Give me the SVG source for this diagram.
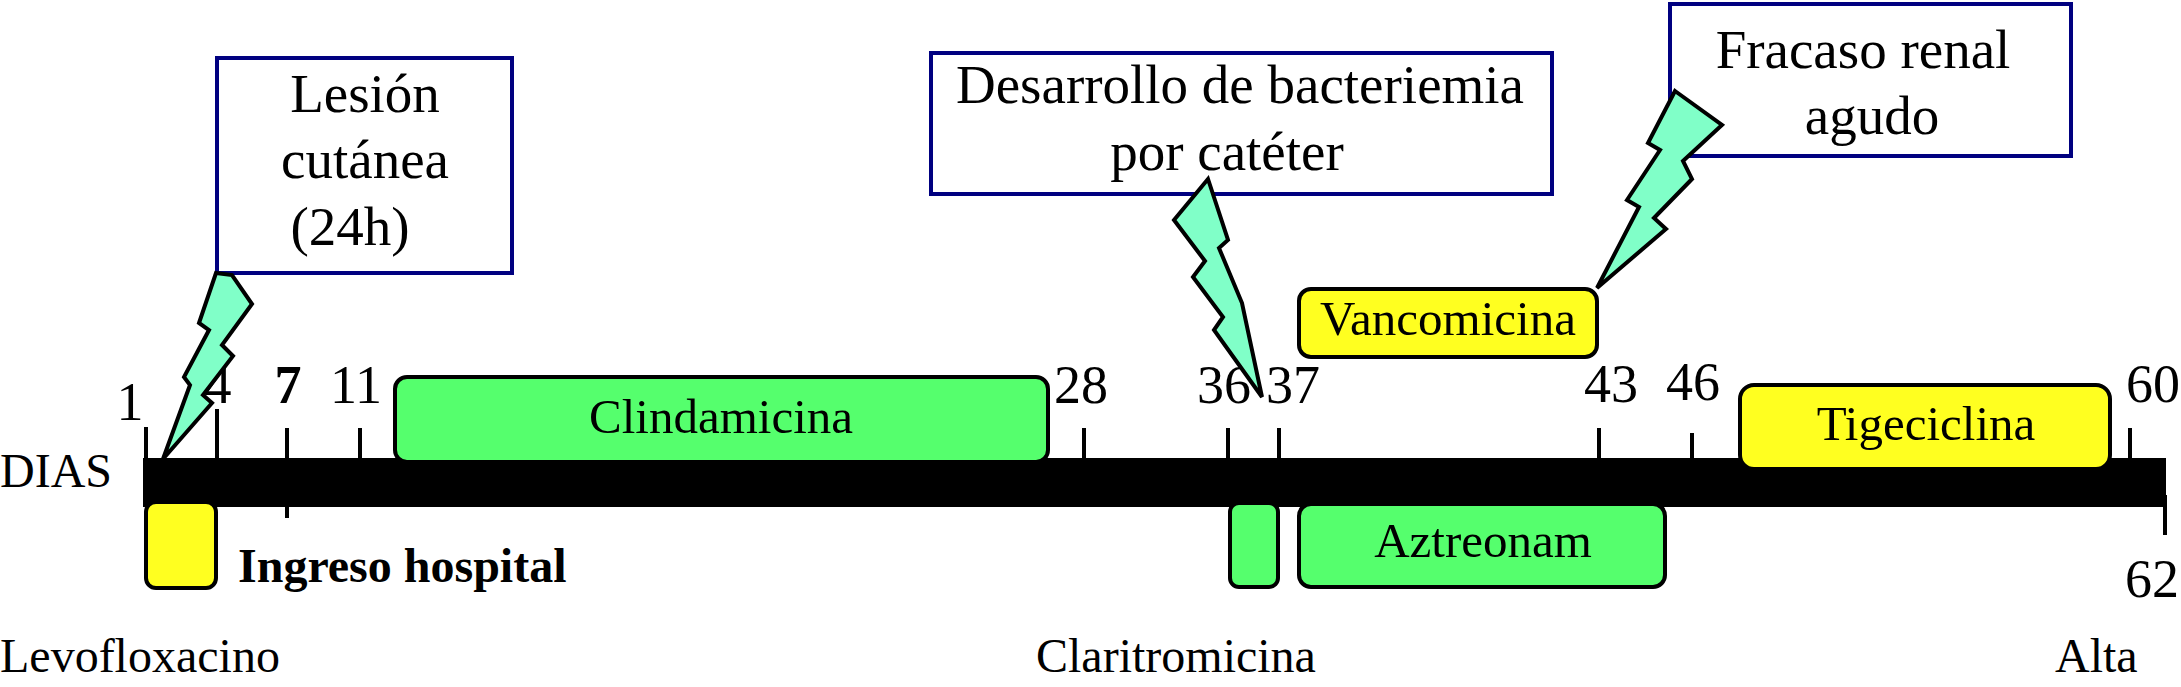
<svg xmlns="http://www.w3.org/2000/svg" width="2181" height="687" viewBox="0 0 2181 687">
<style>
text{font-family:"Liberation Serif","Times New Roman",serif;fill:#000}
.lbl{font-size:48px}
.num{font-size:54px;text-anchor:middle}
.bar-t{font-size:49px;text-anchor:middle}
.call{font-size:55px;text-anchor:middle}
.green{fill:#55FF6D;stroke:#000;stroke-width:4}
.yellow{fill:#FFFF20;stroke:#000;stroke-width:4}
.callbox{fill:#fff;stroke:#000080;stroke-width:4}
.bolt{fill:#80FFC8;stroke:#000;stroke-width:4;stroke-linejoin:miter}
.tick{stroke:#000;stroke-width:4}
</style>
<rect width="2181" height="687" fill="#fff"/>

<g id="axis">
  <line class="tick" x1="146" y1="427" x2="146" y2="460"/>
  <line class="tick" x1="217" y1="409" x2="217" y2="460"/>
  <line class="tick" x1="287" y1="428" x2="287" y2="518"/>
  <line class="tick" x1="360" y1="428" x2="360" y2="460"/>
  <line class="tick" x1="1084" y1="428" x2="1084" y2="460"/>
  <line class="tick" x1="1228" y1="428" x2="1228" y2="460"/>
  <line class="tick" x1="1279" y1="428" x2="1279" y2="460"/>
  <line class="tick" x1="1599" y1="428" x2="1599" y2="460"/>
  <line class="tick" x1="1692" y1="433" x2="1692" y2="460"/>
  <line class="tick" x1="2130" y1="428" x2="2130" y2="460"/>
  <line class="tick" x1="2165" y1="495" x2="2165" y2="535"/>
  <rect x="143" y="458" width="2023" height="49" fill="#000"/>
  <text class="lbl" x="0" y="487" font-size="50">DIAS</text>
  <text class="num" x="130" y="420">1</text>
  <text class="num" x="218" y="403">4</text>
  <text class="num" x="288" y="403" font-weight="bold">7</text>
  <text class="num" x="356" y="403">11</text>
  <text class="num" x="1081" y="403">28</text>
  <text class="num" x="1224" y="403">36</text>
  <text class="num" x="1293" y="403">37</text>
  <text class="num" x="1611" y="402">43</text>
  <text class="num" x="1693" y="400">46</text>
  <text class="num" x="2153" y="402">60</text>
  <text class="num" x="2152" y="597">62</text>
</g>

<g id="levofloxacino">
  <rect class="yellow" x="146" y="502" width="70" height="86" rx="10"/>
  <text class="lbl" x="0" y="672">Levofloxacino</text>
</g>
<g id="ingreso">
  <text class="lbl" x="238" y="582" font-weight="bold">Ingreso hospital</text>
</g>
<g id="clindamicina">
  <rect class="green" x="395" y="377" width="653" height="85" rx="12"/>
  <text class="bar-t" x="721" y="433">Clindamicina</text>
</g>
<g id="claritromicina">
  <rect class="green" x="1230" y="503" width="48" height="84" rx="9"/>
  <text class="lbl" x="1036" y="672">Claritromicina</text>
</g>
<g id="aztreonam">
  <rect class="green" x="1299" y="504" width="366" height="83" rx="12"/>
  <text class="bar-t" x="1483" y="557">Aztreonam</text>
</g>
<g id="vancomicina">
  <rect class="yellow" x="1299" y="289" width="298" height="68" rx="12"/>
  <text class="bar-t" x="1448" y="335">Vancomicina</text>
</g>
<g id="tigeciclina">
  <rect class="yellow" x="1740" y="385" width="370" height="84" rx="14"/>
  <text class="bar-t" x="1926" y="440">Tigeciclina</text>
</g>
<g id="alta">
  <text class="lbl" x="2055" y="672">Alta</text>
</g>

<g id="lesion">
  <rect class="callbox" x="217" y="58" width="295" height="215"/>
  <text class="call" x="365" y="112">Lesión</text>
  <text class="call" x="365" y="178">cutánea</text>
  <text class="call" x="350" y="245">(24h)</text>
</g>
<g id="bacteriemia">
  <rect class="callbox" x="931" y="53" width="621" height="141"/>
  <text class="call" x="1240" y="103">Desarrollo de bacteriemia</text>
  <text class="call" x="1227" y="170">por catéter</text>
</g>
<g id="fracaso">
  <rect class="callbox" x="1670" y="4" width="401" height="152"/>
  <text class="call" x="1863" y="68">Fracaso renal</text>
  <text class="call" x="1872" y="134">agudo</text>
</g>

<g id="connectors">
  <path class="bolt" d="M216,273 L232,275 L252,304 L222,345 L233,356 L203,395 L212,403 L163,459 L190,385 L184,377 L209,330 L199,323 Z"/>
  <path class="bolt" d="M1208,179 L1228,240 L1219,248 L1242,303 L1262,397 L1214,330 L1223,317 L1193,277 L1205,261 L1174,220 Z"/>
  <path class="bolt" d="M1675,91 L1722,125 L1683,161 L1692,179 L1654,218 L1666,229 L1597,288 L1639,207 L1627,200 L1660,150 L1648,143 Z"/>
</g>
</svg>
